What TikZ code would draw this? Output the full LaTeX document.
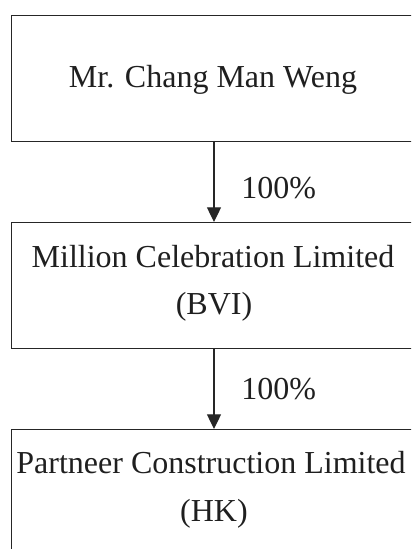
\documentclass[tikz,border=0pt]{standalone}
\usepackage{fontspec}
\setmainfont{Liberation Serif}
\usetikzlibrary{arrows.meta}
\begin{document}
\begin{tikzpicture}[x=0.75pt,y=-0.75pt,
  box/.style={draw=black!85,line width=0.95pt,minimum width=304.5pt,minimum height=94.5pt,inner sep=0pt,anchor=north west},
  txt/.style={font=\fontsize{24}{35}\selectfont,anchor=base,inner sep=0pt,text=black!88},
  pct/.style={font=\fontsize{24}{35}\selectfont,anchor=base west,inner sep=0pt,text=black!88},
  conn/.style={draw=black!85,line width=0.95pt,-{Triangle[width=10.5pt,length=11pt]}}]
\useasboundingbox (0,0) rectangle (411,549);
\clip (0,0) rectangle (411,549);
\node[box] (b1) at (11,15) {};
\node[box] (b2) at (11,222) {};
\node[box] (b3) at (11,429) {};
\node[txt] (t1) at (213,88) {Mr. Chang Man Weng};
\node[txt] (t2a) at (213,267) {Million Celebration Limited};
\node[txt] (t2b) at (214,314) {(BVI)};
\node[txt] (t3a) at (211,473) {Partneer Construction Limited};
\node[txt] (t3b) at (214,521) {(HK)};
\coordinate (a1s) at (214,141);
\coordinate (a1e) at (214,222);
\coordinate (a2s) at (214,348);
\coordinate (a2e) at (214,429);
\draw[conn] (a1s) -- (a1e);
\draw[conn] (a2s) -- (a2e);
\node[pct] (p1) at (241,198) {100\%};
\node[pct] (p2) at (241,399) {100\%};
\end{tikzpicture}
\end{document}
